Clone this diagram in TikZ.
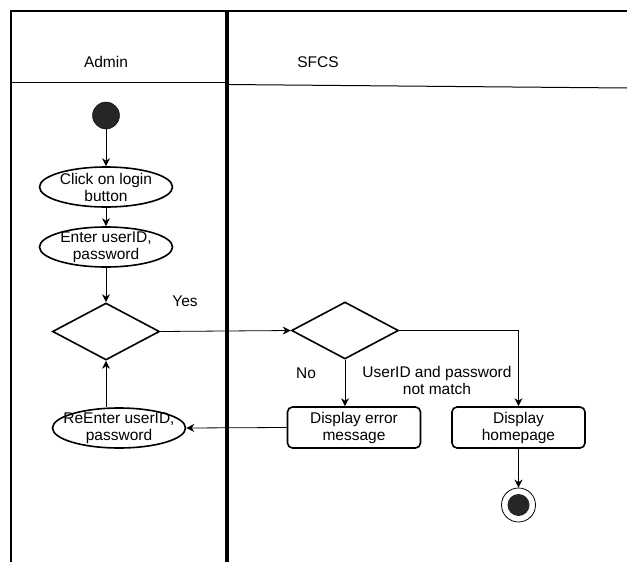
\documentclass[tikz,border=0pt]{standalone}
\usepackage{fontspec}
\setmainfont{Liberation Sans}
\usetikzlibrary{shapes.geometric,arrows.meta}

\tikzset{
  action/.style={
    ellipse,
    draw,
    line width=1.6pt,
    minimum width=133pt,
    minimum height=40pt,
    inner xsep=-12pt,
    inner ysep=-3pt,
    align=center,
    font=\fontsize{15.5}{17}\selectfont
  },
  choice/.style={
    diamond,
    draw,
    line width=1.6pt,
    minimum width=107pt,
    minimum height=57pt,
    inner sep=0pt
  },
  screen/.style={
    rectangle,
    rounded corners=5pt,
    draw,
    line width=1.6pt,
    minimum width=133pt,
    minimum height=41pt,
    inner sep=0pt,
    align=center,
    font=\fontsize{15.5}{17}\selectfont
  },
  flow/.style={
    line width=0.8pt,
    -{Stealth[length=8pt,width=8pt]}
  },
  lbl/.style={font=\fontsize{15.5}{17}\selectfont, align=center}
}

\begin{document}
\begin{tikzpicture}[x=1pt, y=-1pt]
      \useasboundingbox (0,0) rectangle (627,562);

      % swimlanes
      \draw[line width=1.6pt] (627,11) -- (11,11) -- (11,562);
      \draw[line width=4.5pt] (227,11) -- (227,562);
      \draw[line width=1pt] (11,82) -- (227,82);
      \draw[line width=1pt] (227,84.5) -- (627,88);
      \node[lbl] (admin) at (106,62) {Admin};
      \node[lbl] (sfcs) at (318,62) {SFCS};

      % Admin lane
      \filldraw[
        draw=black,
        fill=black!85
      ] (106,115.5) circle[radius=13.5pt];
      \coordinate (start) at (106,129);
      \node[action] (click) at (106,187) {Click on login\\button};
      \node[action] (enter) at (106,247) {Enter userID,\\password};
      \node[choice] (check) at (106,331.5) {};
      \node[action] (reenter) at (119,428) {ReEnter userID,\\password};

      % SFCS lane
      \node[choice] (valid) at (345,330.5) {};
      \node[screen] (error) at (354,427.5) {Display error\\message};
      \node[screen] (home) at (518.5,427.5) {Display\\homepage};
      \node[
        circle,
        draw,
        line width=0.8pt,
        minimum size=34pt,
        inner sep=0pt
      ] (finish) at (518.5,505) {};
      \fill[black!85] (finish.center) circle[radius=11pt];

      % flows
      \draw[flow] (start) -- (click);
      \draw[flow] (click) -- (enter);
      \draw[flow] (enter) -- (check);
      \draw[flow] (check.east) -- (valid.west);
      \draw[flow] (valid.south) -- (valid.south |- error.north);
      \draw[flow] (valid.east) -| (home.north);
      \draw[flow] (error.west) -- (reenter.east);
      \draw[flow] (check.south |- reenter.north) -- (check.south);
      \draw[flow] (home.south) -- (finish.north);

      \node[lbl] (yes) at (185,301) {Yes};
      \node[lbl] (no) at (306,373) {No};
      \node[lbl] (nomatch) at (437,380) {UserID and password\\not match};
    \end{tikzpicture}
\end{document}
